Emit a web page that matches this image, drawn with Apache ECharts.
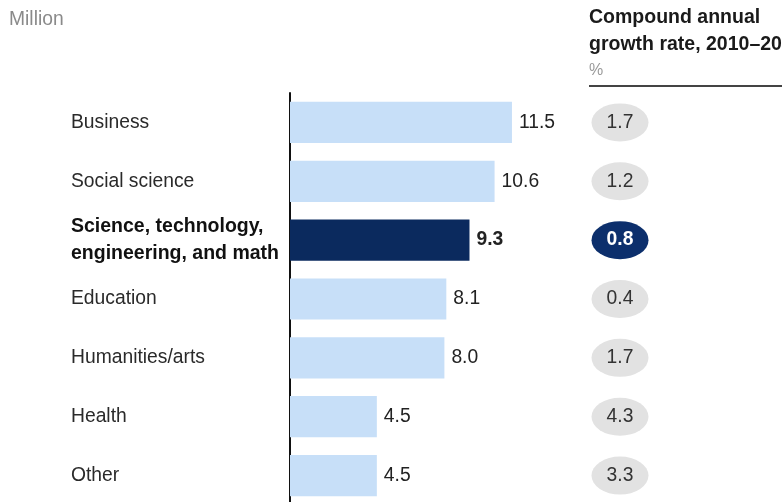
<!DOCTYPE html>
<html>
<head>
<meta charset="utf-8">
<script src="https://cdn.jsdelivr.net/npm/echarts@6/dist/echarts.min.js"></script>
<style>
  html, body { margin: 0; padding: 0; background: #fff; overflow: hidden; }
  #chart { width: 782px; height: 510px; }
</style>
</head>
<body>
<div id="chart"></div>
<script>
// Employment by field of degree, million, with compound annual growth rate (%)
const categories = [
  'Business',
  'Social science',
  'Science, technology, engineering, and math',
  'Education',
  'Humanities/arts',
  'Health',
  'Other'
];
const employment = [11.5, 10.6, 9.3, 8.1, 8.0, 4.5, 4.5];
const growthRate = [1.7, 1.2, 0.8, 0.4, 1.7, 4.3, 3.3];
const highlighted = 'Science, technology, engineering, and math';

const FONT = '"Liberation Sans", Arial, Helvetica, sans-serif';
const FS = 19.3;
const FSB = 19.5;
const LIGHT = '#c7dff8';
const DARK = '#0b2a5e';

const chart = echarts.init(document.getElementById('chart'), null, { renderer: 'canvas' });

const barData = categories.map((c, i) => {
  const hi = c === highlighted;
  return {
    value: employment[i],
    itemStyle: { color: hi ? DARK : LIGHT },
    label: { fontWeight: hi ? 'bold' : 'normal' }
  };
});

const bubbleData = categories.map((c, i) => {
  const hi = c === highlighted;
  return {
    value: ['rate', c, growthRate[i]],
    itemStyle: { color: hi ? '#0c2f6c' : '#e2e2e2', opacity: 1 },
    label: { color: hi ? '#ffffff' : '#333333', fontWeight: hi ? 'bold' : 'normal' }
  };
});

chart.setOption({
  animation: false,
  textStyle: { fontFamily: FONT },
  graphic: [
    { type: 'text', left: 9, top: 10, style: { text: 'Million', fill: '#8a8a8a', font: FS + 'px ' + FONT } },
    { type: 'text', left: 589, top: 8, style: { text: 'Compound annual', fill: '#1a1a1a', font: 'bold ' + FSB + 'px ' + FONT } },
    { type: 'text', left: 589, top: 35, style: { text: 'growth rate, 2010–20', fill: '#1a1a1a', font: 'bold ' + FSB + 'px ' + FONT } },
    { type: 'text', left: 589, top: 63, style: { text: '%', fill: '#9a9a9a', font: '16px ' + FONT } },
    { type: 'line', shape: { x1: 589, y1: 86, x2: 782, y2: 86 }, style: { stroke: '#444', lineWidth: 2 } }
  ],
  grid: [
    { left: 290, top: 93, width: 289.5, height: 412, containLabel: false },
    { left: 560, top: 93, width: 120, height: 412, containLabel: false }
  ],
  xAxis: [
    { type: 'value', gridIndex: 0, min: 0, max: 15, show: false },
    { type: 'category', gridIndex: 1, data: ['rate'], show: false }
  ],
  yAxis: [
    {
      type: 'category', gridIndex: 0, data: categories, inverse: true,
      axisLine: { show: true, lineStyle: { color: '#111', width: 2 } },
      axisTick: { show: false },
      splitLine: { show: false },
      axisLabel: {
        align: 'left',
        margin: 219,
        color: '#2a2a2a',
        fontSize: FS,
        fontFamily: FONT,
        formatter: function (v) {
          if (v === highlighted) {
            return '{b|Science, technology,}\n{b|engineering, and math}';
          }
          return v;
        },
        rich: {
          b: { fontWeight: 'bold', fontSize: FSB, fontFamily: FONT, color: '#111', lineHeight: 27 }
        }
      }
    },
    { type: 'category', gridIndex: 1, data: categories, inverse: true, show: false }
  ],
  series: [
    {
      type: 'bar',
      xAxisIndex: 0, yAxisIndex: 0,
      data: barData,
      barCategoryGap: '30%',
      label: {
        show: true,
        position: 'right',
        distance: 7,
        color: '#222',
        fontSize: FS,
        fontFamily: FONT,
        formatter: p => p.value.toFixed(1)
      }
    },
    {
      type: 'scatter',
      xAxisIndex: 1, yAxisIndex: 1,
      symbol: 'circle',
      symbolSize: [57, 38],
      encode: { x: 0, y: 1 },
      data: bubbleData,
      itemStyle: { opacity: 1 },
      label: {
        show: true,
        position: 'inside',
        fontSize: FS,
        fontFamily: FONT,
        formatter: p => p.value[2].toFixed(1)
      }
    }
  ]
});
</script>
</body>
</html>
